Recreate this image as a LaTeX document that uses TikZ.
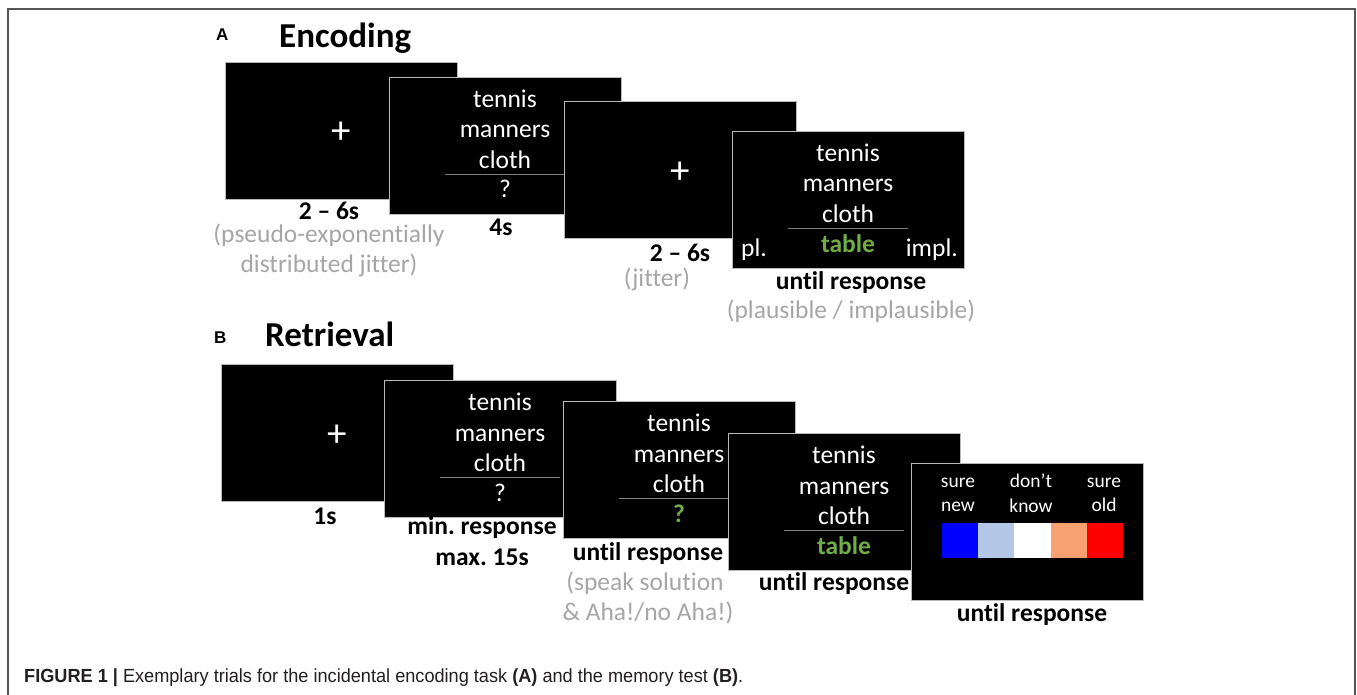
\documentclass[tikz,border=0pt]{standalone}
\usepackage{fontspec}
\setmainfont{Carlito}[Ligatures=NoCommon]
\newfontfamily\capfont{Liberation Sans}
\usetikzlibrary{calc}
\definecolor{txtgray}{HTML}{A6A6A6}
\definecolor{ansgreen}{HTML}{70AD47}
\definecolor{lblue}{HTML}{B4C7E7}
\definecolor{lorange}{HTML}{F8A070}
\definecolor{framegray}{HTML}{555555}
\definecolor{capblack}{HTML}{231F20}
\frenchspacing
\tikzset{
  screen/.style={draw=gray!55, line width=0.8pt, fill=black, minimum width=232pt, minimum height=137pt, anchor=north west, inner sep=0pt, outer sep=0pt},
  word/.style={text=white, font=\fontsize{25.5}{30}\selectfont, anchor=base, inner sep=0pt},
  smallword/.style={text=white, font=\fontsize{19.5}{23}\selectfont, anchor=base, inner sep=0pt},
  ans/.style={text=ansgreen, font=\bfseries\fontsize{25.5}{30}\selectfont, anchor=base, inner sep=0pt},
  sepline/.style={draw=gray, line width=1.3pt},
  tlabel/.style={font=\bfseries\fontsize{25.5}{30}\selectfont, anchor=base, inner sep=0pt},
  glabel/.style={text=txtgray, font=\fontsize{25.5}{30}\selectfont, anchor=base, inner sep=0pt},
  heading/.style={font=\bfseries\fontsize{35}{40}\selectfont, anchor=base west, inner sep=0pt},
  panel/.style={font=\capfont\bfseries\fontsize{17}{19}\selectfont, anchor=base west, inner sep=0pt},
  fixcross/.style={text=white, font=\fontsize{39}{42}\selectfont, inner sep=0pt},
  swatch/.style={minimum width=36.2pt, minimum height=35pt, inner sep=0pt, outer sep=0pt, anchor=north west, draw=none},
}
\newcommand\wordtriad[1]{%
  \node[word] (#1w1) at ($(#1.north)+(0,30.5)$) {tennis};
  \node[word] (#1w2) at ($(#1.north)+(0,61)$) {manners};
  \node[word] (#1w3) at ($(#1.north)+(0,91.5)$) {cloth};
  \coordinate (#1la) at ($(#1.north)+(-60,97.5)$);
  \coordinate (#1lb) at ($(#1.north)+(60,97.5)$);
  \draw[sepline] (#1la) -- (#1lb);
}
\begin{document}
\begin{tikzpicture}[x=1pt,y=-1pt]
\useasboundingbox (0,0) rectangle (1357,695);
\fill[white] (0,0) rectangle (1357,695);
% outer frame
\coordinate (f1) at (8,695);
\coordinate (f2) at (8,9);
\coordinate (f3) at (1355,9);
\coordinate (f4) at (1355,695);
\draw[framegray, line width=1.5pt] (f1) -- (f2) -- (f3) -- (f4);

% ---------------- A: Encoding
\node[panel] (pA) at (216,41) {A};
\node[heading] (hA) at (279,48) {Encoding};

\node[screen] (e1) at (225,62) {};
\node[fixcross] (e1x) at ($(e1.center)+(0,2)$) {+};

\node[screen] (e2) at (389,77) {};
\wordtriad{e2}
\node[word] (e2q) at ($(e2.north)+(0,121)$) {?};

\node[screen] (e3) at (564,101) {};
\node[fixcross] (e3x) at ($(e3.center)+(0,3)$) {+};

\node[screen] (e4) at (732,131) {};
\wordtriad{e4}
\node[ans] (e4a) at ($(e4.north)+(0,121)$) {table};
\node[word, anchor=base west] (e4pl) at ($(e4.north west)+(9,125)$) {pl.};
\node[word, anchor=base east] (e4im) at ($(e4.north east)+(-6,125)$) {impl.};

\node[tlabel] (le1) at (329,220) {2 – 6s};
\node[glabel] (ge1a) at (329,243) {(pseudo-exponentially};
\node[glabel] (ge1b) at (329,272) {distributed jitter)};
\node[tlabel] (le2) at (501,235) {4s};
\node[tlabel] (le3) at (680,261) {2 – 6s};
\node[glabel] (ge3) at (657,286) {(jitter)};
\node[tlabel] (le4) at (851,289) {until response};
\node[glabel] (ge4) at (851,318) {(plausible / implausible)};

% ---------------- B: Retrieval
\node[panel] (pB) at (214,343) {B};
\node[heading] (hB) at (265,346) {Retrieval};

\node[screen] (r1) at (221,364) {};
\node[fixcross] (r1x) at ($(r1.center)+(0,3)$) {+};

\node[screen] (r2) at (384,380) {};
\wordtriad{r2}
\node[word] (r2q) at ($(r2.north)+(0,121)$) {?};

\node[screen] (r3) at (563,401) {};
\wordtriad{r3}
\node[ans] (r3q) at ($(r3.north)+(0,121)$) {?};

\node[screen] (r4) at (728,433) {};
\wordtriad{r4}
\node[ans] (r4a) at ($(r4.north)+(0,121)$) {table};

\node[screen] (r5) at (911,463) {};
\node[smallword] (s1a) at (958,487) {sure};
\node[smallword] (s1b) at (958,511) {new};
\node[smallword] (s2a) at (1031,487) {don’t};
\node[smallword] (s2b) at (1031,512) {know};
\node[smallword] (s3a) at (1104,487) {sure};
\node[smallword] (s3b) at (1104,511) {old};
\node[swatch, fill=blue] (c1) at (942,523) {};
\node[swatch, fill=lblue] (c2) at (c1.north east) {};
\node[swatch, fill=white] (c3) at (c2.north east) {};
\node[swatch, fill=lorange] (c4) at (c3.north east) {};
\node[swatch, fill=red] (c5) at (c4.north east) {};

\node[tlabel] (lr1) at (325,524) {1s};
\node[tlabel] (lr2a) at (482,534) {min. response};
\node[tlabel] (lr2b) at (482,565) {max. 15s};
\node[tlabel] (lr3) at (648,560) {until response};
\node[glabel] (gr3a) at (645,590) {(speak solution};
\node[glabel] (gr3b) at (648,620) {\& Aha!/no Aha!)};
\node[tlabel] (lr4) at (834,590) {until response};
\node[tlabel] (lr5) at (1032,621) {until response};

% ---------------- caption
\node[anchor=base west, inner sep=0pt, text=capblack] (cap) at (24,682)
  {\resizebox{719pt}{\height}{\capfont\fontsize{19}{21}\selectfont\textbf{FIGURE 1 |} Exemplary trials for the incidental encoding task \textbf{(A)} and the memory test \textbf{(B)}.}};
\end{tikzpicture}
\end{document}
